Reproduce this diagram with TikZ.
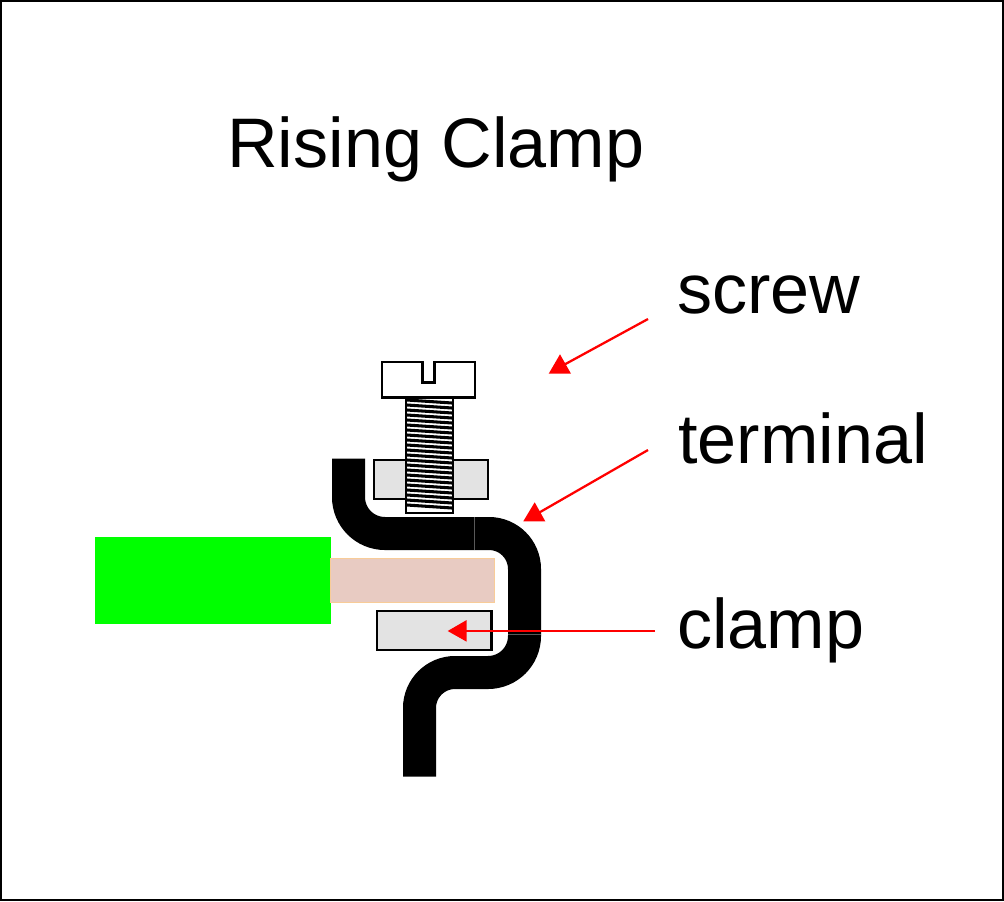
\documentclass[tikz,border=0pt]{standalone}
\usepackage{fontspec}
\setmainfont{Liberation Sans}
\definecolor{partgrey}{HTML}{E3E3E3}
\definecolor{copper}{HTML}{E8CBC2}
\definecolor{copperedge}{HTML}{F8CC98}
\tikzset{
  caption/.style={anchor=base west,inner sep=0pt,font=\fontsize{52.6}{60}\selectfont},
  pointer/.style={draw=red,line width=1.7pt},
  pointerhead/.style={fill=red},
  strap/.style={line width=24.75pt,line cap=butt,black},
  seam/.style={draw=black!65,line width=0.6pt},
  part/.style={draw=black,line width=1.9pt},
  thread/.style={black,line width=2.3pt}
}
\begin{document}
\begin{tikzpicture}[x=0.75pt,y=-0.75pt]
\useasboundingbox (0,0) rectangle (1004,901);
\draw[black,line width=1.5pt] (1,1) rectangle (1003,900);

% insulated wire and its bare end
\fill[green] (95,537) rectangle (331,623.5);
\filldraw[fill=copper,draw=copperedge,line width=0.7pt] (330,558) rectangle (494,602);

% terminal strap: four quarter bends joined by straight runs
\draw[strap] (348.5,458.5) -- (348.5,497)
  .. controls (348.5,517.2) and (364.8,533.5) .. (385,533.5)
  -- (489,533.5)
  .. controls (508.6,533.5) and (524.5,549.4) .. (524.5,569)
  -- (524.5,636)
  .. controls (524.5,656.2) and (508.2,672.5) .. (488,672.5)
  -- (455,672.5)
  .. controls (435.4,672.5) and (419.5,688.4) .. (419.5,708)
  -- (419.5,776.5);
\draw[seam] (474.5,517) -- (474.5,550);
\draw[seam] (508,634) -- (541,634);

% clamp plate and nut
\filldraw[part,fill=partgrey] (377,611) rectangle (491.3,650);
\filldraw[part,fill=partgrey] (374,460) rectangle (488,499);

% screw shaft with its threads
\filldraw[part,fill=white] (406,397.5) rectangle (453,513);
\foreach \yy in {400,405,...,505}
  \draw[thread] (407,\yy) -- (452,\yy+3);

% screw head with slot
\filldraw[part,fill=white] (382,362) rectangle (475,397.5);
\draw[part,fill=white] (422.5,362) -- (422.5,382.5) -- (434.5,382.5) -- (434.5,362);
\draw[white,line width=1.9pt] (423.7,362) -- (433.3,362);

% captions
\node[caption] (title) at (227,167) {Rising Clamp};
\node[caption] (screwtext) at (677,313) {screw};
\node[caption] (terminaltext) at (678,463) {terminal};
\node[caption] (clamptext) at (677,648) {clamp};

% leader lines with their heads
\coordinate (screwfrom) at (648,319);
\coordinate (screwto) at (560,367);
\coordinate (terminalfrom) at (648,450);
\coordinate (terminalto) at (535,515);
\coordinate (clampfrom) at (655,631);
\coordinate (clampto) at (460,631);
\draw[pointer] (screwfrom) -- (screwto);
\draw[pointer] (terminalfrom) -- (terminalto);
\draw[pointer] (clampfrom) -- (clampto);
\fill[pointerhead] (548.7,373.7) -- (571,373.7) -- (560,354.3) -- cycle;
\fill[pointerhead] (523.3,521.3) -- (545.3,521.3) -- (534.7,502.3) -- cycle;
\fill[pointerhead] (447.7,631) -- (466.7,620) -- (466.7,641.7) -- cycle;
\end{tikzpicture}
\end{document}
